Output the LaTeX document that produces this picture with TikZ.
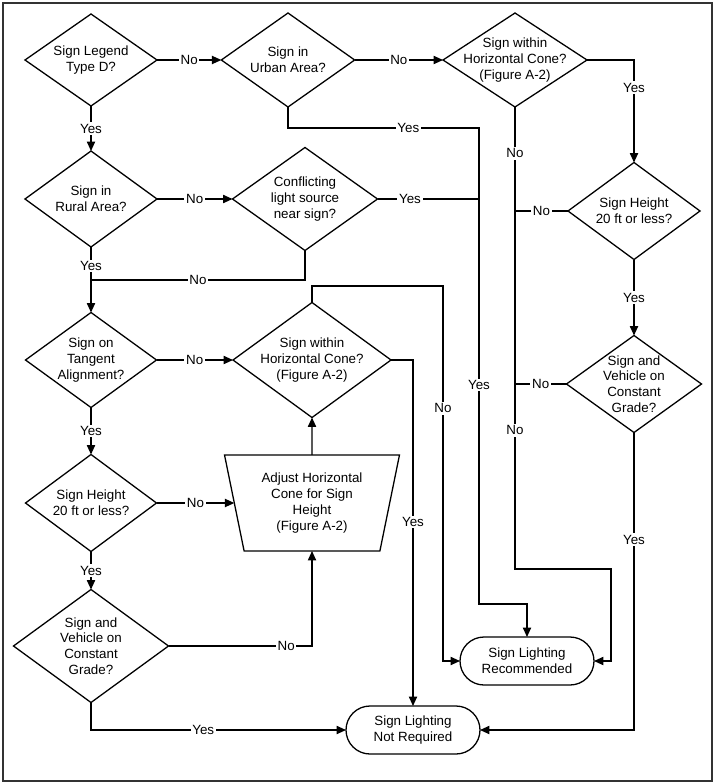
\documentclass[tikz,border=0pt]{standalone}
\usepackage{fontspec}
\setmainfont{Liberation Sans}
\usetikzlibrary{shapes.geometric,arrows.meta}

\begin{document}
\begin{tikzpicture}[x=0.03cm,y=-0.03cm,line width=1.1pt,
	font=\fontsize{11.4pt}{13.4pt}\selectfont,
	decision/.style={draw,shape=diamond,align=center,inner sep=-1cm,outer sep=0pt},
	adjustbox/.style={draw,shape=trapezium,trapezium stretches=true,trapezium left angle=103.75,trapezium right angle=103.75,align=center,inner sep=0pt,outer sep=0pt},
	endbox/.style={draw,rounded corners=0.72cm,minimum width=4.02cm,minimum height=1.44cm,align=center,outer sep=0pt},
	lbl/.style={fill=white,inner sep=1.5pt},
	arr/.style={-{Triangle[length=8pt,width=7pt]}}]
	% frame
		\useasboundingbox (0,0) rectangle (717,784);
		\draw[line width=1.6pt,black!80] (3,3) rectangle (712,781);
	% top row
		\node[decision,minimum width=3.96cm,minimum height=2.76cm] (legend) at (91,60) {Sign Legend\\Type D?};
		\node[decision,minimum width=4cm,minimum height=2.82cm] (urban) at (288,60) {Sign in\\Urban Area?};
		\node[decision,minimum width=4.32cm,minimum height=2.82cm] (coneA) at (515,60) {Sign within\\Horizontal Cone?\\(Figure A-2)};
	% second row
		\node[decision,minimum width=3.96cm,minimum height=2.88cm] (rural) at (91,199) {Sign in\\Rural Area?};
		\node[decision,minimum width=4.35cm,minimum height=3.09cm] (conflict) at (305,199) {Conflicting\\light source\\near sign?};
	% right column
		\node[decision,minimum width=3.96cm,minimum height=2.91cm] (heightR) at (634,211) {Sign Height\\20 ft or less?};
		\node[decision,minimum width=4.05cm,minimum height=2.91cm] (gradeR) at (634,384) {Sign and\\Vehicle on\\Constant\\Grade?};
	% left column
		\node[decision,minimum width=3.93cm,minimum height=2.85cm] (tangent) at (91,360) {Sign on\\Tangent\\Alignment?};
		\node[decision,minimum width=3.93cm,minimum height=2.91cm] (heightL) at (91,503) {Sign Height\\20 ft or less?};
		\node[decision,minimum width=4.65cm,minimum height=3.39cm] (gradeL) at (91,646) {Sign and\\Vehicle on\\Constant\\Grade?};
	% middle
		\node[decision,minimum width=4.74cm,minimum height=3.45cm] (coneB) at (312,360) {Sign within\\Horizontal Cone?\\(Figure A-2)};
		\node[adjustbox,minimum width=5.25cm,minimum height=2.88cm] (adjust) at (312,503) {Adjust Horizontal\\Cone for Sign\\Height\\(Figure A-2)};
	% results
		\node[endbox] (rec) at (527,661) {Sign Lighting\\Recommended};
		\node[endbox] (notreq) at (413,730) {Sign Lighting\\Not Required};
	% bus corners
		\coordinate (busY) at (479,128);
		\coordinate (busYb) at (479,604);
		\coordinate (joinA) at (91,280);
		\coordinate (busN) at (515,569);
		\coordinate (busNr) at (611,569);
		\coordinate (loopN) at (443,286);
	% top row arrows
		\draw[arr] (legend.east) -- node[lbl]{No} (urban.west);
		\draw[arr] (urban.east) -- node[lbl]{No} (coneA.west);
		\draw[arr] (legend.south) -- node[lbl]{Yes} (rural.north);
		\draw[arr] (urban.south) |- node[lbl,pos=0.815]{Yes} (busY) -- node[lbl,pos=0.54]{Yes} (busYb) -| (rec.north);
		\draw (conflict.east) -- node[lbl,pos=0.32]{Yes} (conflict.east -| busY);
		\draw[arr] (rural.east) -- node[lbl]{No} (conflict.west);
		\draw (conflict.south) |- node[lbl,pos=0.75]{No} (joinA);
		\draw[arr] (rural.south) -- node[lbl,pos=0.29]{Yes} (tangent.north);
	% right column arrows
		\draw[arr] (coneA.east) -| node[lbl,pos=0.636]{Yes} (heightR.north);
		\draw[arr] (coneA.south) -- node[lbl,pos=0.1]{No} node[lbl,pos=0.7]{No} (busN) -- (busNr) |- (rec.east);
		\draw (heightR.west) -- node[lbl]{No} (heightR.west -| busN);
		\draw[arr] (heightR.south) -- node[lbl]{Yes} (gradeR.north);
		\draw (gradeR.west) -- node[lbl]{No} (gradeR.west -| busN);
		\draw[arr] (gradeR.south) |- node[lbl,pos=0.18]{Yes} (notreq.east);
	% left column arrows
		\draw[arr] (tangent.east) -- node[lbl]{No} (coneB.west);
		\draw[arr] (tangent.south) -- node[lbl]{Yes} (heightL.north);
		\draw[arr] (heightL.east) -- node[lbl]{No} (heightL.east -| adjust.west);
		\draw[arr] (heightL.south) -- node[lbl]{Yes} (gradeL.north);
		\draw[arr] (gradeL.east) -| node[lbl,pos=0.41]{No} (adjust.south);
		\draw[arr] (gradeL.south) |- node[lbl,pos=0.72]{Yes} (notreq.west);
	% middle arrows
		\draw[arr] (adjust.north) -- (coneB.south);
		\draw[arr] (coneB.north) |- (loopN) |- node[lbl,pos=0.163]{No} (rec.west);
		\draw[arr] (coneB.east) -| node[lbl,pos=0.734]{Yes} (notreq.north);
\end{tikzpicture}
\end{document}
